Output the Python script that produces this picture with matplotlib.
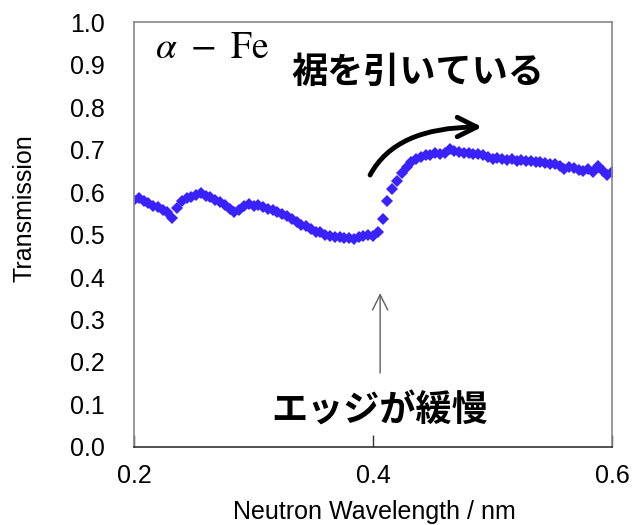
import numpy as np
import matplotlib
matplotlib.use('Agg')
import matplotlib.pyplot as plt

plt.rcParams['font.family'] = ['Liberation Sans', 'DejaVu Sans']
plt.rcParams['mathtext.fontset'] = 'stix'

# ---- data ----
# wavelength bins, 0.200 .. 0.600 nm, step 0.004
wavelength = np.round(np.arange(0.200, 0.6001, 0.004), 3)
transmission = [
    0.582, 0.587, 0.580, 0.575, 0.568, 0.565, 0.558, 0.552, 0.540, 0.562,
    0.578, 0.585, 0.588, 0.592, 0.597, 0.590, 0.588, 0.582, 0.576, 0.570,
    0.561, 0.553, 0.557, 0.566, 0.571, 0.568, 0.570, 0.565, 0.561, 0.558,
    0.553, 0.548, 0.543, 0.537, 0.530, 0.523, 0.520, 0.512, 0.507, 0.505,
    0.500, 0.497, 0.494, 0.495, 0.491, 0.492, 0.490, 0.493, 0.497, 0.500,
    0.497, 0.505, 0.537, 0.579, 0.606, 0.626, 0.645, 0.660, 0.670, 0.677,
    0.683, 0.686, 0.688, 0.692, 0.689, 0.693, 0.701, 0.697, 0.694, 0.692,
    0.693, 0.690, 0.689, 0.686, 0.683, 0.677, 0.680, 0.678, 0.676, 0.677,
    0.674, 0.675, 0.672, 0.673, 0.670, 0.671, 0.668, 0.667, 0.666, 0.661,
    0.655, 0.660, 0.657, 0.652, 0.649, 0.654, 0.648, 0.662, 0.650, 0.641,
    0.648,
]
x_ticks = [0.2, 0.4, 0.6]
y_ticks = np.round(np.arange(0.0, 1.01, 0.1), 1)

JP = ['Noto Sans CJK JP', 'DejaVu Sans']

fig = plt.figure(figsize=(6.35, 5.25), dpi=100)
ax = fig.add_axes([0.211, 0.1486, 0.753, 0.8094])

ax.plot(wavelength, transmission, linestyle='none', marker='D',
        markersize=6.6, color='#3a22ff', markeredgewidth=0)

ax.set_xlim(0.2, 0.6)
ax.set_ylim(0.0, 1.0)
ax.set_xticks(x_ticks)
ax.set_xticklabels([f'{v:.1f}' for v in x_ticks])
ax.set_yticks(y_ticks)
ax.set_yticklabels([f'{v:.1f}' for v in y_ticks])
ax.tick_params(axis='x', direction='in', length=9, width=1, color='#333333',
               labelsize=18, pad=12)
ax.tick_params(axis='y', length=0, labelsize=18, pad=21)

for side in ('left', 'top', 'right'):
    ax.spines[side].set_color('#888888')
    ax.spines[side].set_linewidth(1.2)
ax.spines['bottom'].set_color('#333333')
ax.spines['bottom'].set_linewidth(1.2)

ax.set_xlabel('Neutron Wavelength / nm', fontsize=18)
ax.set_ylabel('Transmission', fontsize=18)
ax.xaxis.set_label_coords(0.502, -0.153)
ax.xaxis.label.set_va('center')
ax.yaxis.set_label_coords(-0.230, 0.562)
ax.yaxis.label.set_va('center')

# ---- annotations ----
ax.text(0.2176, 0.915, r'$\alpha\ -\ \mathrm{Fe}$', fontsize=27,
        ha='left', va='baseline')
ax.text(0.4377, 0.882, '裾を引いている', family=JP, fontsize=26,
        fontweight='bold', ha='center', va='center')
ax.text(0.4059, 0.085, 'エッジが緩慢', family=JP, fontsize=26,
        fontweight='bold', ha='center', va='center')

ax.annotate('', xy=(0.4912, 0.753), xytext=(0.3975, 0.640),
            arrowprops=dict(arrowstyle='->,head_length=1.4,head_width=0.7',
                            connectionstyle='angle3,angleA=62,angleB=0',
                            lw=3.5, color='black', mutation_scale=10,
                            shrinkA=0, shrinkB=0))
ax.annotate('', xy=(0.4059, 0.362), xytext=(0.4059, 0.174),
            arrowprops=dict(arrowstyle='->,head_length=1.1,head_width=0.55',
                            lw=1.0, color='#606060', mutation_scale=10,
                            shrinkA=0, shrinkB=0))

fig.savefig('out.png', dpi=100)
